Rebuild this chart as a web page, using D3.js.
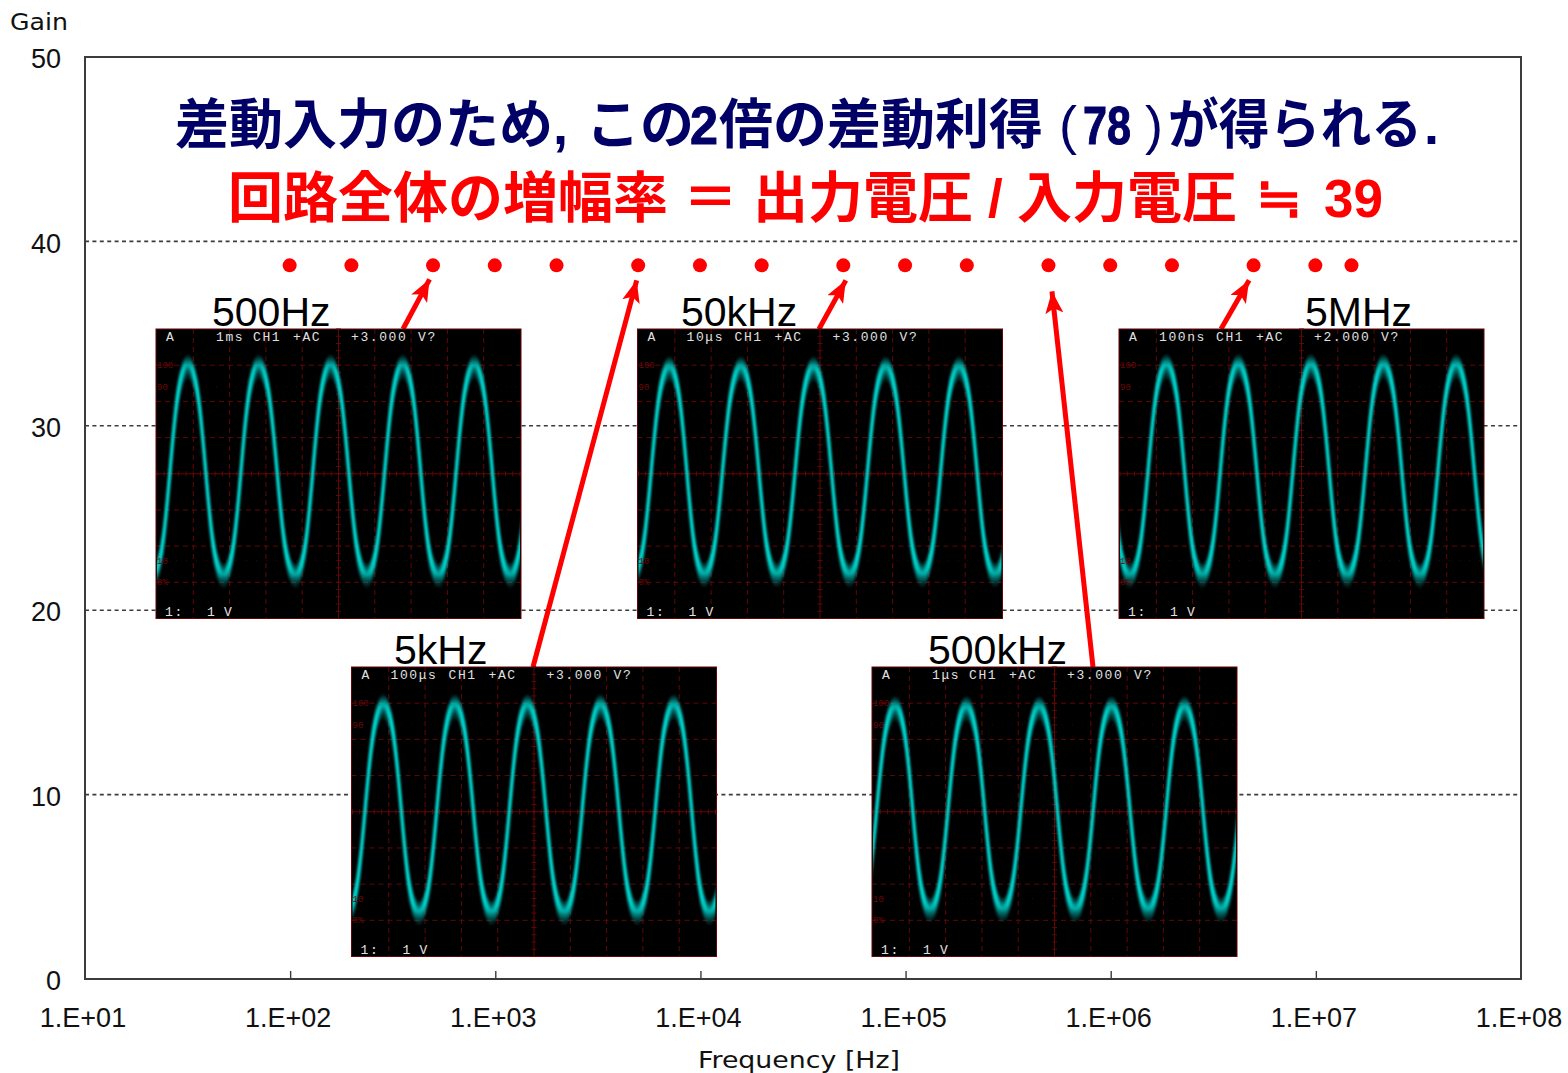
<!DOCTYPE html>
<html><head><meta charset="utf-8">
<script src="https://cdn.jsdelivr.net/npm/d3@7/dist/d3.min.js"></script>
<style>html,body{margin:0;padding:0;background:#fff}svg{display:block}</style>
</head><body><div id="chart"></div>
<script>
// ---- Data ----
const freqHz = [100,200,500,1e3,2e3,5e3,1e4,2e4,5e4,1e5,2e5,5e5,1e6,2e6,5e6,1e7,1.5e7];
const gain   = [38.7,38.7,38.7,38.7,38.7,38.7,38.7,38.7,38.7,38.7,38.7,38.7,38.7,38.7,38.7,38.7,38.7];
const xTicks = [10,100,1e3,1e4,1e5,1e6,1e7,1e8];
const xTickLabels = ["1.E+01","1.E+02","1.E+03","1.E+04","1.E+05","1.E+06","1.E+07","1.E+08"];
const yTicks = [0,10,20,30,40,50];
const yGrid  = [10,20,30,40];
const title1 = ["差動入力のため",",","この","2","倍の差動利得","(","78",")","が得られる","."];
const title2 = ["回路全体の増幅率","＝","出力電圧","/","入力電圧","≒","39"];

// oscilloscope traces: turning points as [time in divisions, level in divisions from top]
const trace500Hz  = [[-0.13,6.82],[0.85,1.05],[1.83,6.82],[2.80,1.05],[3.81,6.82],[4.78,1.05],[5.78,6.82],[6.77,1.05],[7.75,6.82],[8.74,1.05],[9.73,6.82],[10.7,1.05]];
const trace5kHz   = [[-0.15,6.8],[0.85,1.1],[1.83,6.8],[2.82,1.1],[3.83,6.8],[4.82,1.1],[5.83,6.8],[6.83,1.1],[7.84,6.8],[8.85,1.1],[9.83,6.8],[10.85,1.1]];
const trace50kHz  = [[-0.15,6.8],[0.85,1.1],[1.81,6.8],[2.82,1.1],[3.81,6.8],[4.82,1.1],[5.81,6.8],[6.81,1.1],[7.82,6.8],[8.83,1.1],[9.82,6.8],[10.85,1.1]];
const trace500kHz = [[-0.4,6.72],[0.61,1.15],[1.57,6.72],[2.57,1.15],[3.57,6.72],[4.58,1.15],[5.57,6.72],[6.57,1.15],[7.58,6.72],[8.58,1.15],[9.59,6.72],[10.6,1.15]];
const trace5MHz   = [[-0.72,1.04],[0.27,6.82],[1.28,1.04],[2.27,6.82],[3.26,1.04],[4.27,6.82],[5.26,1.04],[6.26,6.82],[7.26,1.04],[8.26,6.82],[9.26,1.04],[10.26,6.82]];

const scopes = [
 {cap:"500Hz", capX:212, capY:326, left:156,   top:329, time:"1ms",   timeDx:60, volts:"+3.000", trace:trace500Hz,  f:500, tail:[403,329], tip:[-3,14]},
 {cap:"5kHz",  capX:394, capY:664, left:351.5, top:667, time:"100μs", timeDx:39, volts:"+3.000", trace:trace5kHz,   f:5e3, tail:[533,667], tip:[-1,15]},
 {cap:"50kHz", capX:681, capY:326, left:637.5, top:329, time:"10μs",  timeDx:49, volts:"+3.000", trace:trace50kHz,  f:5e4, tail:[819,329], tip:[3,15]},
 {cap:"500kHz",capX:928, capY:664, left:872,   top:667, time:"1μs",   timeDx:60, volts:"+3.000", trace:trace500kHz, f:5e5, tail:[1093,667],tip:[4,26]},
 {cap:"5MHz",  capX:1305,capY:326, left:1119,  top:329, time:"100ns", timeDx:40, volts:"+2.000", trace:trace5MHz,   f:5e6, tail:[1221,329],tip:[-4,15]}
];
const bandOffsets = [-11,-9,-7,-5,-3,-1,1,3,5,7,9,11];
const bandOpacity = [.16,.27,.42,.58,.72,.75,.58,.44,.33,.24,.16,.1];

// ---- Drawing ----
const W=1568,H=1073;
const svg=d3.select("#chart").append("svg").attr("width",W).attr("height",H);
const defs=svg.append("defs");
const x=d3.scaleLog().domain([10,1e8]).range([85,1521]);
const y=d3.scaleLinear().domain([0,50]).range([979,57]);
const axisFont='"Liberation Sans",Arial,sans-serif';
const gray="#3c3c3c";

defs.append("marker").attr("id","head").attr("markerUnits","userSpaceOnUse")
  .attr("viewBox","0 0 22 18").attr("markerWidth",22).attr("markerHeight",18)
  .attr("refX",22).attr("refY",9).attr("orient","auto")
  .append("path").attr("d","M0,0L22,9L0,18L5,9Z").attr("fill","#ff0000");
defs.append("filter").attr("id","glow").attr("x","-5%").attr("y","-5%").attr("width","110%").attr("height","110%")
  .append("feGaussianBlur").attr("stdDeviation",0.9);

// grid
svg.append("g").selectAll("line").data(yGrid).join("line")
  .attr("x1",x(10)).attr("x2",x(1e8)).attr("y1",d=>y(d)).attr("y2",d=>y(d))
  .attr("stroke",gray).attr("stroke-width",1.6).attr("stroke-dasharray","4 3.4");

// axes
const xAxis=d3.axisBottom(x).tickValues(xTicks.slice(1,-1)).tickSize(-8).tickFormat("");
svg.append("g").attr("transform",`translate(0,${y(0)})`).call(xAxis)
  .call(g=>g.select(".domain").remove())
  .call(g=>g.selectAll("line").attr("stroke",gray).attr("stroke-width",1.4));
svg.append("rect").attr("x",x(10)).attr("y",y(50)).attr("width",x(1e8)-x(10)).attr("height",y(0)-y(50))
  .attr("fill","none").attr("stroke",gray).attr("stroke-width",2);
svg.append("g").selectAll("text").data(xTicks).join("text")
  .attr("x",d=>x(d)-2).attr("y",1027).attr("text-anchor","middle")
  .attr("font-family",axisFont).attr("font-size",27).attr("fill","#111")
  .text((d,i)=>xTickLabels[i]);
const yAxis=d3.axisLeft(y).tickValues(yTicks).tickSize(0).tickPadding(24);
svg.append("g").attr("transform",`translate(${x(10)},1)`).call(yAxis)
  .call(g=>g.select(".domain").remove())
  .call(g=>g.selectAll("text").attr("font-family",axisFont).attr("font-size",27).attr("fill","#111").attr("dy","0.36em"));
svg.append("text").attr("x",10).attr("y",30).attr("font-family",'"DejaVu Sans",sans-serif').attr("font-size",23)
  .attr("fill","#111").attr("textLength",58).attr("lengthAdjust","spacingAndGlyphs").text("Gain");
svg.append("text").attr("x",698).attr("y",1068).attr("font-family",'"DejaVu Sans",sans-serif').attr("font-size",23)
  .attr("fill","#111").attr("textLength",202).attr("lengthAdjust","spacingAndGlyphs").text("Frequency [Hz]");

// data points
svg.append("g").selectAll("circle").data(freqHz).join("circle")
  .attr("cx",d=>x(d)-0.5).attr("cy",(d,i)=>y(gain[i])).attr("r",7).attr("fill","#ff0000");

// arrows (below the scope pictures)
svg.append("g").selectAll("line").data(scopes).join("line")
  .attr("x1",d=>d.tail[0]).attr("y1",d=>d.tail[1])
  .attr("x2",d=>x(d.f)-1+d.tip[0]).attr("y2",d=>y(38.7)+d.tip[1])
  .attr("stroke","#ff0000").attr("stroke-width",5).attr("marker-end","url(#head)");

// scope pictures
const SW=365,SH=289.5;
const grid="#640606";
scopes.forEach((s,si)=>{
  const g=svg.append("g").attr("transform",`translate(${s.left},${s.top})`);
  const t=d3.scaleLinear().domain([0,10]).range([1,SW-1]);
  const v=d3.scaleLinear().domain([0,8]).range([0,SH]);
  const id="clip"+si;
  defs.append("clipPath").attr("id",id).append("rect").attr("x",1).attr("y",1).attr("width",SW-2).attr("height",SH-2);
  g.append("rect").attr("width",SW).attr("height",SH).attr("fill","#000").attr("stroke",grid).attr("stroke-width",1);
  // graticule
  g.selectAll(".gv").data(d3.range(1,10)).join("line")
    .attr("x1",d=>t(d)).attr("x2",d=>t(d)).attr("y1",0).attr("y2",SH)
    .attr("stroke",grid).attr("stroke-width",1).attr("stroke-dasharray",d=>d===5?null:"5 4");
  g.selectAll(".gh").data(d3.range(1,8)).join("line")
    .attr("x1",0).attr("x2",SW).attr("y1",d=>v(d)).attr("y2",d=>v(d))
    .attr("stroke",grid).attr("stroke-width",1).attr("stroke-dasharray",d=>d===4?null:"5 4");
  g.selectAll(".tx").data(d3.range(0,10.01,0.2)).join("line")
    .attr("x1",d=>t(d)).attr("x2",d=>t(d)).attr("y1",v(4)-2.5).attr("y2",v(4)+2.5).attr("stroke",grid);
  g.selectAll(".ty").data(d3.range(0,8.01,0.2)).join("line")
    .attr("x1",t(5)-2.5).attr("x2",t(5)+2.5).attr("y1",d=>v(d)).attr("y2",d=>v(d)).attr("stroke",grid);
  g.selectAll(".dots").data([1.6,6.4]).join("line")
    .attr("x1",0).attr("x2",SW).attr("y1",d=>v(d)).attr("y2",d=>v(d))
    .attr("stroke","#3a0404").attr("stroke-dasharray","1 9");
  // trace
  const line=d3.line().curve(d3.curveBumpX).x(d=>t(d[0])).y(d=>v(d[1]));
  const tg=g.append("g").attr("clip-path",`url(#${id})`).append("g").attr("filter","url(#glow)");
  bandOffsets.forEach((o,i)=>{
    tg.append("path").attr("d",line(s.trace)).attr("transform",`translate(0,${o})`)
      .attr("fill","none").attr("stroke","#00e0d8").attr("stroke-width",2.2).attr("stroke-opacity",bandOpacity[i]);
  });
  // screen text
  const mono='"Liberation Mono","DejaVu Sans Mono",monospace';
  const txt=(xp,yp,str,col,size,ls)=>g.append("text").attr("x",xp).attr("y",yp).attr("font-family",mono)
    .attr("font-size",size||13).attr("letter-spacing",ls===undefined?1.6:ls).attr("fill",col||"#e0e0e0").text(str);
  txt(10,12,"A");
  txt(s.timeDx,12,s.time);
  txt(97,12,"CH1");
  txt(137,12,"+AC");
  txt(195,12,s.volts);
  txt(262,12,"V?");
  txt(9,287,"1:");
  txt(51,287,"1");
  txt(68,287,"V");
  [["100",1],["90",1.6],["10",6.4],["0%",7]].forEach(([a,b])=>txt(1,v(b)+3,a,"#6a0808",9,0));
  // caption
  svg.append("text").attr("x",s.capX).attr("y",s.capY).attr("font-family",axisFont).attr("font-size",41).attr("fill","#000").text(s.cap);
});

// headline text
const cjk='"Liberation Sans","Noto Sans CJK JP",sans-serif';
const h1x=[175,553,586,690,719,1059,1083,1145,1168,1424];
const h1len=[null,null,null,28,null,null,48,null,254,null];
const h1w=[700,700,700,700,700,400,700,400,700,700];
svg.append("g").selectAll("text").data(title1).join("text")
  .attr("x",(d,i)=>h1x[i]).attr("y",144).attr("font-family",cjk).attr("font-weight",(d,i)=>h1w[i])
  .attr("font-size",54).attr("fill","#000066")
  .attr("stroke",(d,i)=>h1len[i]&&i!==8?"#000066":null).attr("stroke-width",(d,i)=>h1len[i]&&i!==8?1:null)
  .attr("textLength",(d,i)=>h1len[i]).attr("lengthAdjust","spacingAndGlyphs").text(d=>d);
const h2x=[228,683,753,988,1017,1256,1324];
const h2s=[55,55,55,53,55,55,53];
svg.append("g").selectAll("text").data(title2).join("text")
  .attr("x",(d,i)=>h2x[i]).attr("y",217).attr("font-family",cjk).attr("font-weight",700)
  .attr("font-size",(d,i)=>h2s[i]).attr("fill","#ff0000").text(d=>d);
</script></body></html>
